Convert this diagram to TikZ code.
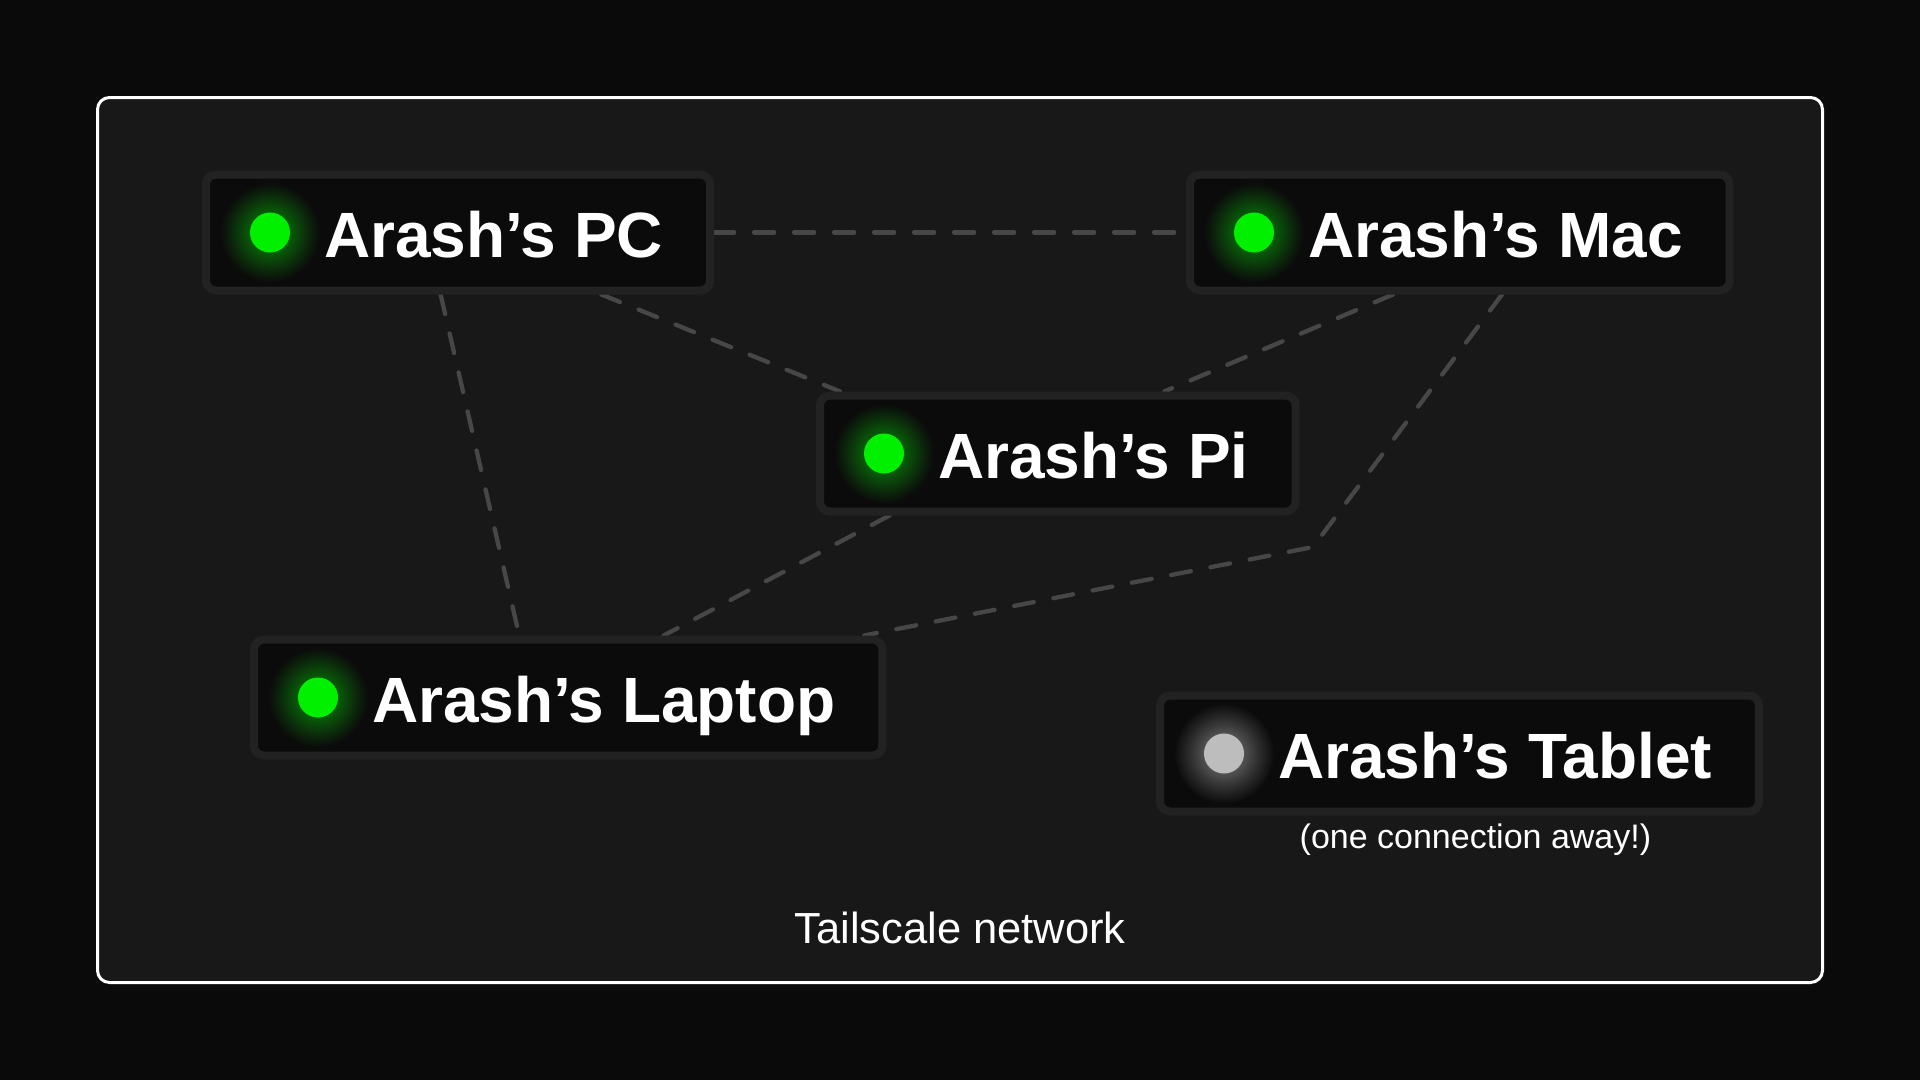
\documentclass[tikz,border=0pt]{standalone}
\usepackage{fontspec}
\setmainfont{Liberation Sans}
\usepackage{tikz}
\usetikzlibrary{calc,positioning}

\definecolor{pagebg}{HTML}{0A0A0A}
\definecolor{framefill}{HTML}{181818}
\definecolor{boxfill}{HTML}{0B0B0B}
\definecolor{boxline}{HTML}{222222}
\definecolor{linkgray}{HTML}{474747}
\definecolor{ledon}{HTML}{00F000}
\definecolor{ledoff}{HTML}{BDBDBD}

\pgfdeclarelayer{frame}
\pgfdeclarelayer{links}
\pgfsetlayers{frame,links,main}

\pgfdeclareradialshading{glowon}{\pgfpointorigin}{rgb(0bp)=(0,0.5,0); rgb(10bp)=(0.03,0.36,0.03); rgb(15bp)=(0.04,0.25,0.04); rgb(20bp)=(0.045,0.14,0.045); rgb(23bp)=(0.045,0.08,0.045); rgb(25bp)=(0.043,0.043,0.043); rgb(50bp)=(0.043,0.043,0.043)}
\pgfdeclareradialshading{glowoff}{\pgfpointorigin}{rgb(0bp)=(0.5,0.5,0.5); rgb(10bp)=(0.32,0.32,0.32); rgb(15bp)=(0.22,0.22,0.22); rgb(20bp)=(0.13,0.13,0.13); rgb(23bp)=(0.08,0.08,0.08); rgb(25bp)=(0.043,0.043,0.043); rgb(50bp)=(0.043,0.043,0.043)}

\begin{document}
\begin{tikzpicture}[x=1pt,y=-1pt,
    device/.style={draw=boxline,line width=8pt,fill=boxfill,rounded corners=10pt,
        anchor=west,inner xsep=47pt,inner ysep=0pt,minimum height=116pt,
        text height=50pt,text depth=0pt,text=white,
        font=\fontsize{64}{64}\bfseries\selectfont},
    led/.style={circle,fill=#1,minimum size=40pt,inner sep=0pt},
    link/.style={draw=linkgray,line width=4.3pt,dash pattern=on 20pt off 20pt,line cap=round},
    caption/.style={text=white,inner sep=0pt,font=\fontsize{#1}{#1}\selectfont}]

    \useasboundingbox (0,0) rectangle (1920,1080);
    \begin{pgfonlayer}{frame}
        \fill[pagebg] (0,0) rectangle (1920,1080);
        \draw[white,line width=3pt,fill=framefill,rounded corners=12pt] (97.5,97.5) rectangle (1822.5,982.5);
    \end{pgfonlayer}

    \node[device] (pc) at (202,232.5) {\hspace*{71pt}Arash’s PC};
    \node[device] (mac) at (1186,232.5) {\hspace*{71pt}Arash’s Mac};
    \node[device] (pi) at (816,453.5) {\hspace*{71pt}Arash’s Pi};
    \node[device] (laptop) at (250,697.5) {\hspace*{71pt}Arash’s Laptop};
    \node[device] (tablet) at (1156,753.5) {\hspace*{71pt}Arash’s Tablet};

    \foreach \d in {pc,mac,pi,laptop}{
        \shade[shading=glowon] ([xshift=68pt]\d.west) circle (50pt);
        \node[led=ledon] (\d-led) at ([xshift=68pt]\d.west) {};
    }
    \shade[shading=glowoff] ([xshift=68pt]tablet.west) circle (50pt);
    \node[led=ledoff] (tablet-led) at ([xshift=68pt]tablet.west) {};

    \node[caption=34, below=8pt of tablet, xshift=16pt] (tablet-note) {(one connection away!)};
    \node[caption=43.5] (netlabel) at (960,928) {Tailscale network};

    \coordinate (macbend) at (1313,547);
    \begin{pgfonlayer}{links}
        \draw[link] (pc.east) -- (mac.west);
        \draw[link] ($(pc.south west)!.466!(pc.south east)$) -- ($(laptop.north west)!.423!(laptop.north east)$);
        \draw[link] ($(pc.south west)!.78!(pc.south east)$) -- ($(pi.north west)!.05!(pi.north east)$);
        \draw[link] ($(mac.south west)!.378!(mac.south east)$) -- ($(pi.north west)!.72!(pi.north east)$);
        \draw[link] ($(mac.south west)!.577!(mac.south east)$) -- (macbend) -- ($(laptop.north west)!.965!(laptop.north east)$);
        \draw[link] ($(pi.south west)!.152!(pi.south east)$) -- ($(laptop.north west)!.65!(laptop.north east)$);
    \end{pgfonlayer}
\end{tikzpicture}
\end{document}
